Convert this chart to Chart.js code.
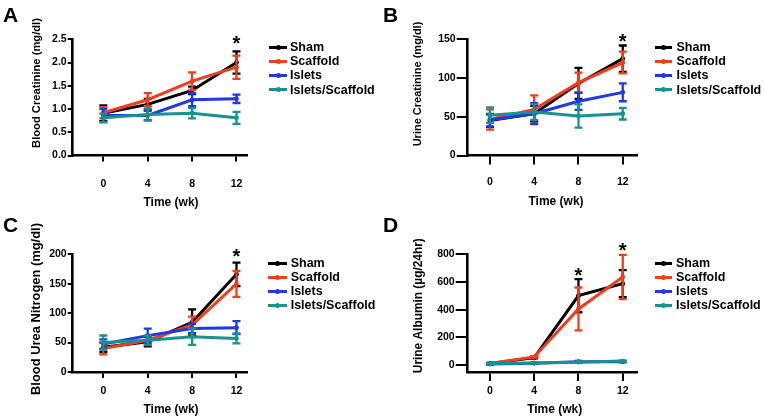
<!DOCTYPE html>
<html>
<head>
<meta charset="utf-8">
<script src="https://cdn.jsdelivr.net/npm/chart.js@4.4.0/dist/chart.umd.min.js"></script>
<style>
  body { margin: 0; background: #fff; width: 764px; height: 420px; position: relative; overflow: hidden;
         font-family: Arial, "Liberation Sans", sans-serif; }
  canvas { position: absolute; }
  .tag { position: absolute; font: bold 21px/1 Arial, "Liberation Sans", sans-serif; color: #000; }
  .row { position: absolute; white-space: nowrap; font: bold 12.5px/1 Arial, "Liberation Sans", sans-serif; color: #000; }
  .sw { position: absolute; height: 3px; }
  .dot { position: absolute; width: 5px; height: 5px; border-radius: 50%; }
</style>
</head>
<body>
<script>
// Kidney function panels A-D: mean ± error per group over time.
const WEEKS = [0, 4, 8, 12];
const GROUPS = ["Sham", "Scaffold", "Islets", "Islets/Scaffold"];
const COLORS = ["#000000", "#f23c1e", "#1f38e8", "#18928f"];

// A: blood creatinine (mg/dl)
const A_SHAM = [0.91, 1.10, 1.40, 2.00], A_SHAM_ERR = [0.17, 0.12, 0.08, 0.24];
const A_SCAF = [0.92, 1.20, 1.60, 1.90], A_SCAF_ERR = [0.12, 0.14, 0.19, 0.25];
const A_ISL = [0.86, 0.86, 1.20, 1.22], A_ISL_ERR = [0.14, 0.10, 0.14, 0.09];
const A_ISC = [0.81, 0.88, 0.91, 0.81], A_ISC_ERR = [0.09, 0.13, 0.11, 0.13];
const A_YTICKS = [0, 0.5, 1.0, 1.5, 2.0, 2.5];
const A_STAR_X = [12], A_STAR_Y = [2.51];

// B: urine creatinine (mg/dl)
const B_SHAM = [45, 54, 93, 125], B_SHAM_ERR = [8, 10, 20, 17];
const B_SCAF = [46.5, 59.5, 94, 120], B_SCAF_ERR = [13, 18, 13, 14];
const B_ISL = [45.7, 54, 70, 81.5], B_ISL_ERR = [8, 13.5, 11, 11.5];
const B_ISC = [52, 56, 51, 54], B_ISC_ERR = [10, 10, 15, 7.5];
const B_YTICKS = [0, 50, 100, 150];
const B_STAR_X = [12], B_STAR_Y = [154];

// C: blood urea nitrogen (mg/dl)
const C_SHAM = [42, 51.5, 84.4, 166], C_SHAM_ERR = [8, 8, 22, 20];
const C_SCAF = [40, 54, 80, 149.6], C_SCAF_ERR = [10, 6, 14, 22];
const C_ISL = [47.6, 61.8, 74, 75.4], C_ISL_ERR = [8, 12, 8, 11];
const C_ISC = [50, 54, 60, 57], C_ISC_ERR = [12, 8, 14, 8.5];
const C_YTICKS = [0, 50, 100, 150, 200];
const C_STAR_X = [12], C_STAR_Y = [204];

// D: urine albumin (µg/24hr)
const D_SHAM = [10, 53, 501, 588], D_SHAM_ERR = [5, 5, 120, 98];
const D_SCAF = [10, 58, 405, 636], D_SCAF_ERR = [5, 5, 155, 160];
const D_ISL = [7, 12, 24, 24], D_ISL_ERR = [3, 3, 5, 5];
const D_ISC = [10, 15, 20, 28], D_ISC_ERR = [3, 3, 4, 4];
const D_YTICKS = [0, 200, 400, 600, 800];
const D_STAR_X = [8, 12], D_STAR_Y = [686, 867];

const FONT = 'Arial, "Liberation Sans", sans-serif';

// ---------- layout per panel (pixels are canvas-local) ----------
const PANELS = [
  { tag: "A", left: 0, top: 0, area: { l: 72.7, r: 246.7, t: 39.3, b: 155.5 }, xMin: -2.76, xMax: 12.92,
    yMin: 0, yMax: 2.5, yTicks: A_YTICKS, dec: 1, ytl: 5, ypad: 1, xtl: 6, xpad: 16,
    yTitle: "Blood Creatinine (mg/dl)", ySize: 11.2, yt: [36.7, 83], xt: [171, 202.3],
    series: [[A_SHAM, A_SHAM_ERR], [A_SCAF, A_SCAF_ERR], [A_ISL, A_ISL_ERR], [A_ISC, A_ISC_ERR]],
    starX: A_STAR_X, starY: A_STAR_Y, leg: { x: 269, w: 18, tx: 290, y: 47, dy: 14.2 } },
  { tag: "B", left: 380, top: 0, area: { l: 87.7, r: 256.7, t: 39.3, b: 155.5 }, xMin: -2.01, xMax: 13.26,
    yMin: 0, yMax: 150, yTicks: B_YTICKS, dec: 0, ytl: 11, ypad: 1, xtl: 9, xpad: 11,
    yTitle: "Urine Creatinine (mg/dl)", ySize: 11, yt: [38.3, 84], xt: [176, 202],
    series: [[B_SHAM, B_SHAM_ERR], [B_SCAF, B_SCAF_ERR], [B_ISL, B_ISL_ERR], [B_ISC, B_ISC_ERR]],
    starX: B_STAR_X, starY: B_STAR_Y, leg: { x: 655, w: 16.5, tx: 676.5, y: 47, dy: 14.2 } },
  { tag: "C", left: 0, top: 210, area: { l: 72.7, r: 246.7, t: 44.3, b: 162 }, xMin: -2.76, xMax: 12.92,
    yMin: 0, yMax: 200, yTicks: C_YTICKS, dec: 0, ytl: 5, ypad: 1, xtl: 6, xpad: 6.5,
    yTitle: "Blood Urea Nitrogen (mg/dl)", ySize: 12.9, yt: [36.7, 99], xt: [171, 199.4],
    series: [[C_SHAM, C_SHAM_ERR], [C_SCAF, C_SCAF_ERR], [C_ISL, C_ISL_ERR], [C_ISC, C_ISC_ERR]],
    starX: C_STAR_X, starY: C_STAR_Y, leg: { x: 268, w: 19, tx: 290.7, y: 263.5, dy: 14 } },
  { tag: "D", left: 380, top: 210, area: { l: 87.7, r: 256.7, t: 44.3, b: 161.9 }, xMin: -2.01, xMax: 13.26,
    yMin: -50, yMax: 800, yTicks: D_YTICKS, dec: 0, ytl: 12, ypad: 1, xtl: 9, xpad: 3.5,
    yTitle: "Urine Albumin (µg/24hr)", ySize: 11.9, yt: [38.3, 95.7], xt: [174.7, 199.4],
    series: [[D_SHAM, D_SHAM_ERR], [D_SCAF, D_SCAF_ERR], [D_ISL, D_ISL_ERR], [D_ISC, D_ISC_ERR]],
    starX: D_STAR_X, starY: D_STAR_Y, leg: { x: 655, w: 16.7, tx: 676, y: 263.5, dy: 14 } },
];

// error bars, axis titles and asterisks
const decor = {
  id: "decor",
  afterDatasetDraw(chart, args) {
    const ds = chart.data.datasets[args.index];
    const { x, y } = chart.scales, ctx = chart.ctx;
    ctx.save();
    ctx.strokeStyle = ds.borderColor; ctx.lineWidth = 2.3;
    ds.data.forEach((p, i) => {
      const px = x.getPixelForValue(p.x);
      const t = y.getPixelForValue(p.y + ds.err[i]), b = y.getPixelForValue(p.y - ds.err[i]);
      ctx.beginPath();
      ctx.moveTo(px, t); ctx.lineTo(px, b);
      ctx.moveTo(px - 4, t); ctx.lineTo(px + 4, t);
      ctx.moveTo(px - 4, b); ctx.lineTo(px + 4, b);
      ctx.stroke();
    });
    ctx.restore();
  },
  afterDraw(chart, args, o) {
    const ctx = chart.ctx, { x, y } = chart.scales;
    ctx.save();
    ctx.fillStyle = "#000"; ctx.textAlign = "center"; ctx.textBaseline = "middle";
    ctx.font = `bold 12px ${FONT}`;
    ctx.fillText("Time (wk)", o.xt[0], o.xt[1]);
    ctx.save();
    ctx.translate(o.yt[0], o.yt[1]); ctx.rotate(-Math.PI / 2);
    ctx.font = `bold ${o.ySize}px ${FONT}`;
    ctx.fillText(o.yTitle, 0, 0);
    ctx.restore();
    ctx.font = `bold 20px ${FONT}`; ctx.textBaseline = "alphabetic";
    o.starX.forEach((sx, i) => ctx.fillText("*", x.getPixelForValue(sx), y.getPixelForValue(o.starY[i]) + 11.5));
    ctx.restore();
  }
};

function mkPanel(p) {
  const cv = document.createElement("canvas");
  cv.width = 380; cv.height = 210;
  cv.style.left = p.left + "px"; cv.style.top = p.top + "px";
  document.body.appendChild(cv);

  const tag = document.createElement("div");
  tag.className = "tag"; tag.textContent = p.tag;
  tag.style.left = (p.left + 3) + "px"; tag.style.top = (p.top + 4) + "px";
  document.body.appendChild(tag);

  GROUPS.forEach((g, i) => {
    const cy = p.leg.y + i * p.leg.dy;
    const row = document.createElement("div");
    row.className = "row";
    row.style.left = p.leg.tx + "px"; row.style.top = (cy - 6.1) + "px";
    row.textContent = g;
    const sw = document.createElement("div");
    sw.className = "sw"; sw.style.background = COLORS[i];
    sw.style.left = p.leg.x + "px"; sw.style.width = p.leg.w + "px"; sw.style.top = (cy - 1.5) + "px";
    const dot = document.createElement("div");
    dot.className = "dot"; dot.style.background = COLORS[i];
    dot.style.left = (p.leg.x + p.leg.w / 2 - 2.5) + "px"; dot.style.top = (cy - 2.5) + "px";
    document.body.append(sw, dot, row);
  });

  const tickFont = { family: FONT, size: 10.5, weight: "bold" };
  new Chart(cv, {
    type: "line",
    data: {
      datasets: p.series.map(([vals, err], i) => ({
        label: GROUPS[i],
        data: WEEKS.map((w, j) => ({ x: w, y: vals[j] })),
        err,
        borderColor: COLORS[i], backgroundColor: COLORS[i],
        borderWidth: 3, pointRadius: 2.4, pointBorderWidth: 0,
        tension: 0, order: 4 - i, clip: false,
      })),
    },
    options: {
      responsive: false, animation: false, devicePixelRatio: 1,
      layout: { padding: { left: 0, top: p.area.t, right: 380 - p.area.r, bottom: 0 } },
      plugins: {
        legend: { display: false }, tooltip: { enabled: false },
        decor: { yTitle: p.yTitle, ySize: p.ySize, yt: p.yt, xt: p.xt, starX: p.starX, starY: p.starY },
      },
      scales: {
        x: {
          type: "linear", min: p.xMin, max: p.xMax,
          afterBuildTicks: (s) => { s.ticks = WEEKS.map((v) => ({ value: v })); },
          afterFit: (s) => { s.height = 210 - p.area.b; },
          grid: { drawOnChartArea: false, drawTicks: true, tickLength: p.xtl, color: "#000", lineWidth: 2 },
          border: { display: true, color: "#000", width: 2.6 },
          ticks: { color: "#000", font: tickFont, padding: p.xpad, maxRotation: 0 },
        },
        y: {
          min: p.yMin, max: p.yMax,
          afterBuildTicks: (s) => { s.ticks = p.yTicks.map((v) => ({ value: v })); },
          afterFit: (s) => { s.width = p.area.l; },
          grid: { drawOnChartArea: false, drawTicks: true, tickLength: p.ytl, color: "#000", lineWidth: 2 },
          border: { display: true, color: "#000", width: 2.6 },
          ticks: { color: "#000", font: tickFont, padding: p.ypad, callback: (v) => v.toFixed(p.dec) },
        },
      },
    },
    plugins: [decor],
  });
}

PANELS.forEach(mkPanel);
</script>
</body>
</html>
